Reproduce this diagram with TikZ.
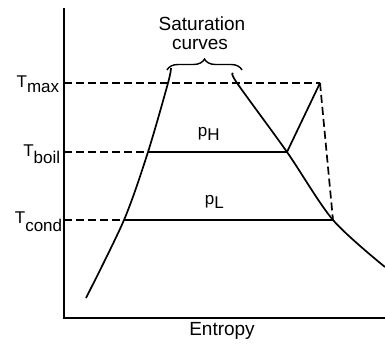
\documentclass[tikz,border=0pt]{standalone}
\usepackage{fontspec}
\setmainfont{Liberation Sans}
\usetikzlibrary{decorations.pathreplacing}
\begin{document}
\begin{tikzpicture}[x=1pt,y=-1pt,line width=1.7pt,
  dsh/.style={dash pattern=on 8pt off 4pt},
  lbl/.style={inner sep=0pt,font=\fontsize{19}{21}\selectfont},
  tlbl/.style={inner sep=0pt,anchor=base east,font=\fontsize{17}{20}\selectfont},
  sub/.style={}]
\useasboundingbox (0,0) rectangle (385,344);
% axes
\coordinate (O) at (64,318);
\coordinate (Ytop) at (64,8);
\coordinate (Xend) at (385,318);
\draw (Ytop) -- (O) -- (Xend);
% temperature levels on axis
\coordinate (Amax) at (64,83);
\coordinate (Aboil) at (64,152);
\coordinate (Acond) at (64,220);
% left saturation curve
\coordinate (L0) at (86,298);
\coordinate (L1) at (124,220);
\coordinate (L2) at (148,152);
\coordinate (L3) at (168,83);
\coordinate (L4) at (171,68);
\draw plot[smooth,tension=0.5] coordinates {(L0) (L1) (L2) (L3) (L4)};
% right saturation curve
\coordinate (R0) at (233,73);
\coordinate (R1) at (237,83);
\coordinate (R2) at (287,152);
\coordinate (R3) at (333,220);
\coordinate (R4) at (385,267);
\draw plot[smooth,tension=0.5] coordinates {(R0) (R1) (R2) (R3) (R4)};
% cycle
\coordinate (P) at (320,83);
\draw[dsh] (Amax) -- (P);
\draw[dsh] (Aboil) -- (L2);
\draw (L2) -- (R2);
\draw[dsh] (Acond) -- (L1);
\draw (L1) -- (R3);
\draw (R2) -- (P);
\draw[dsh] (P) -- (R3);
% brace
\draw[line width=1.4pt,decorate,decoration={brace,amplitude=11pt}] (167,70) -- (242,70);
% labels
\node[lbl] (sat) at (202,24) {Saturation};
\node[lbl] (cur) at (200,44) {curves};
\node[lbl] (ent) at (222,331) {Entropy};
\node[tlbl] (tmax) at (60,88) {T\raisebox{-5pt}{\fontsize{17}{18}\selectfont max}};
\node[tlbl] (tboil) at (61,157) {T\raisebox{-7pt}{\fontsize{17}{18}\selectfont boil}};
\node[tlbl] (tcond) at (63,224) {T\raisebox{-8pt}{\fontsize{17}{18}\selectfont cond}};
\node[tlbl,anchor=base west] (ph) at (197,137) {p\raisebox{-4pt}{\fontsize{17}{18}\selectfont H}};
\node[tlbl,anchor=base west] (pl) at (204,205) {p\raisebox{-4pt}{\fontsize{17}{18}\selectfont L}};
\end{tikzpicture}
\end{document}
